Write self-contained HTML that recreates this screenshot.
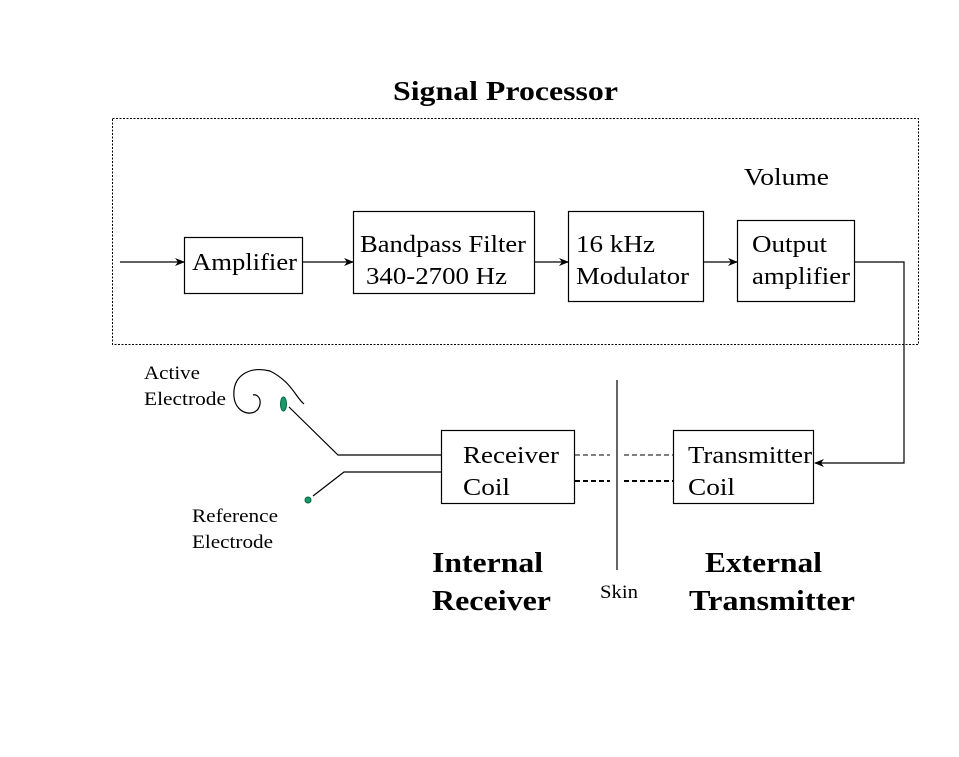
<!DOCTYPE html>
<html><head><style>html,body{margin:0;padding:0;background:#fff}svg{display:block}</style></head>
<body>
<svg width="959" height="757" viewBox="0 0 959 757" xmlns="http://www.w3.org/2000/svg" font-family="Liberation Serif, serif">
<defs><marker id="a" markerWidth="10" markerHeight="8" refX="9" refY="4" orient="auto" markerUnits="userSpaceOnUse"><path d="M0,0 L10,4 L0,8 L3,4 Z" fill="#000"/></marker></defs>
<text x="393" y="100" font-size="27" font-weight="bold" textLength="225" lengthAdjust="spacingAndGlyphs">Signal Processor</text>
<rect x="112.5" y="118.5" width="806" height="226" fill="none" stroke="#000" stroke-dasharray="2,1.5"/>
<text x="744" y="185" font-size="24" textLength="85" lengthAdjust="spacingAndGlyphs">Volume</text>
<g fill="none" stroke="#000" stroke-width="1.2">
<rect x="184.5" y="237.5" width="118" height="56"/>
<rect x="353.5" y="211.5" width="181" height="82"/>
<rect x="568.5" y="211.5" width="135" height="90"/>
<rect x="737.5" y="220.5" width="117" height="81"/>
<rect x="441.5" y="430.5" width="133" height="73"/>
<rect x="673.5" y="430.5" width="140" height="73"/>
<line x1="120" y1="262" x2="184" y2="262" marker-end="url(#a)"/>
<line x1="302" y1="262" x2="353" y2="262" marker-end="url(#a)"/>
<line x1="534" y1="262" x2="568" y2="262" marker-end="url(#a)"/>
<line x1="703" y1="262" x2="737" y2="262" marker-end="url(#a)"/>
<polyline points="854,262 904,262 904,463 815,463" marker-end="url(#a)"/>
<line x1="617" y1="380" x2="617" y2="570"/>
<polyline points="441,455 338,455 289,407"/>
<polyline points="441,472 344,472 313,496"/>
<path d="M304,404 C296,398 292,382 270,371 C250,366 232,375 234,397 C236,416 258,418 260,404 C261,397 256,394 253,395"/>
</g>
<g stroke="#000" fill="none">
<line x1="575" y1="455" x2="610" y2="455" stroke-dasharray="5,3" stroke-width="1"/>
<line x1="624" y1="455" x2="673" y2="455" stroke-dasharray="5,3" stroke-width="1"/>
<line x1="575" y1="481" x2="610" y2="481" stroke-dasharray="5,3" stroke-width="2"/>
<line x1="624" y1="481" x2="673" y2="481" stroke-dasharray="5,3" stroke-width="2"/>
</g>
<ellipse cx="283.5" cy="404" rx="3" ry="7" fill="#1a9a6a" stroke="#064"/>
<circle cx="308" cy="500" r="3" fill="#1a9a6a" stroke="#064"/>
<g font-size="24" lengthAdjust="spacingAndGlyphs">
<text x="192" y="270" textLength="105" lengthAdjust="spacingAndGlyphs">Amplifier</text>
<text x="360" y="252" textLength="166" lengthAdjust="spacingAndGlyphs">Bandpass Filter</text>
<text x="366" y="284" textLength="141" lengthAdjust="spacingAndGlyphs">340-2700 Hz</text>
<text x="576" y="252" textLength="79" lengthAdjust="spacingAndGlyphs">16 kHz</text>
<text x="576" y="284" textLength="113" lengthAdjust="spacingAndGlyphs">Modulator</text>
<text x="752" y="252" textLength="75" lengthAdjust="spacingAndGlyphs">Output</text>
<text x="752" y="284" textLength="98" lengthAdjust="spacingAndGlyphs">amplifier</text>
<text x="463" y="463" textLength="96" lengthAdjust="spacingAndGlyphs">Receiver</text>
<text x="463" y="495" textLength="47" lengthAdjust="spacingAndGlyphs">Coil</text>
<text x="688" y="463" textLength="124" lengthAdjust="spacingAndGlyphs">Transmitter</text>
<text x="688" y="495" textLength="47" lengthAdjust="spacingAndGlyphs">Coil</text>
</g>
<g font-size="19">
<text x="144" y="379" textLength="56" lengthAdjust="spacingAndGlyphs">Active</text>
<text x="144" y="405" textLength="82" lengthAdjust="spacingAndGlyphs">Electrode</text>
<text x="192" y="522" textLength="86" lengthAdjust="spacingAndGlyphs">Reference</text>
<text x="192" y="548" textLength="81" lengthAdjust="spacingAndGlyphs">Electrode</text>
<text x="600" y="598" textLength="38" lengthAdjust="spacingAndGlyphs">Skin</text>
</g>
<g font-size="28" font-weight="bold">
<text x="432" y="572" textLength="111" lengthAdjust="spacingAndGlyphs">Internal</text>
<text x="432" y="610" textLength="119" lengthAdjust="spacingAndGlyphs">Receiver</text>
<text x="705" y="572" textLength="117" lengthAdjust="spacingAndGlyphs">External</text>
<text x="689" y="610" textLength="166" lengthAdjust="spacingAndGlyphs">Transmitter</text>
</g>
</svg>
</body></html>
